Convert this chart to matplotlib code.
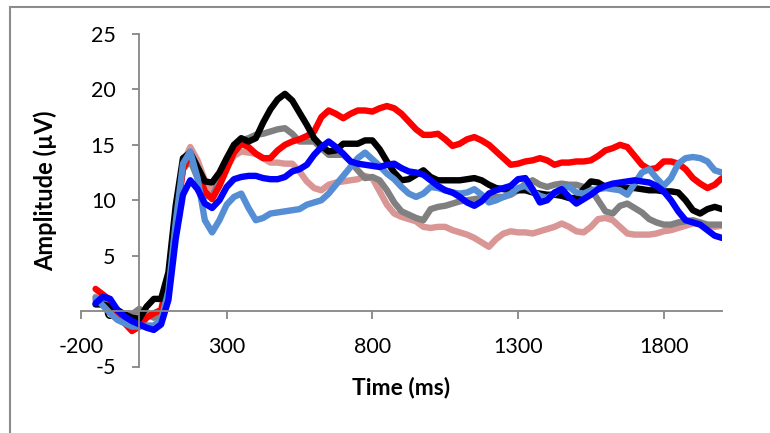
import numpy as np
import matplotlib
matplotlib.use("Agg")
import matplotlib.pyplot as plt
from matplotlib.patches import Rectangle

plt.rcParams['font.family'] = ['Lato', 'DejaVu Sans']
plt.rcParams['axes.unicode_minus'] = False

# time axis of the averaged waveforms (ms), 25 ms steps from -150 to 2000
time_ms = np.arange(-150, 2001, 25)

red = [2.0, 1.5, 1.0, -0.1, -1.1, -1.8, -1.4, -0.6, -0.2, 0.1,
       3.0, 8.0, 12.8, 14.2, 12.6, 10.8, 10.1, 11.3, 12.8, 14.3,
       15.1, 14.8, 14.2, 13.8, 13.8, 14.5, 15.0, 15.3, 15.5, 15.8,
       16.2, 17.5, 18.1, 17.8, 17.4, 17.8, 18.1, 18.1, 18.0, 18.3,
       18.5, 18.3, 17.8, 17.1, 16.4, 15.9, 15.9, 16.0, 15.5, 14.9,
       15.1, 15.5, 15.7, 15.4, 15.0, 14.4, 13.8, 13.2, 13.3, 13.5,
       13.6, 13.8, 13.6, 13.2, 13.4, 13.4, 13.5, 13.5, 13.6, 14.0,
       14.5, 14.7, 15.0, 14.8, 14.0, 13.2, 12.8, 12.9, 13.5, 13.5,
       13.3, 12.8, 12.0, 11.5, 11.1, 11.4, 12.0]

black = [0.6, 0.6, 0.4, 0.1, -0.3, -0.6, -0.7, 0.4, 1.1, 1.1,
         3.5, 9.5, 13.8, 14.3, 13.0, 11.7, 11.6, 12.5, 13.8, 15.0,
         15.6, 15.3, 15.6, 17.0, 18.2, 19.1, 19.6, 19.0, 17.9, 16.8,
         15.6, 14.9, 14.4, 14.5, 15.1, 15.1, 15.1, 15.4, 15.4, 14.6,
         13.5, 12.5, 11.8, 11.9, 12.3, 12.7, 12.1, 11.8, 11.8, 11.8,
         11.8, 11.9, 12.0, 11.8, 11.4, 11.1, 11.0, 10.9, 10.9, 10.9,
         10.7, 10.6, 10.5, 10.5, 10.4, 10.2, 10.2, 11.0, 11.7, 11.6,
         11.2, 11.1, 11.1, 11.1, 11.1, 11.0, 10.9, 10.9, 10.8, 10.8,
         10.7, 10.0, 9.1, 8.8, 9.2, 9.4, 9.2]

gray = [1.0, 0.8, 0.4, 0.1, -0.4, -0.3, 0.2, -0.2, -0.6, -0.3,
        2.5, 8.5, 12.8, 13.6, 12.0, 10.4, 10.3, 11.8, 13.5, 15.0,
        15.4, 15.6, 15.9, 16.0, 16.2, 16.4, 16.5, 16.0, 15.3, 15.3,
        15.3, 14.7, 14.1, 14.1, 14.1, 13.5, 12.7, 12.0, 12.1, 11.8,
        10.9, 9.8, 9.0, 8.7, 8.4, 8.2, 9.2, 9.4, 9.5, 9.7,
        9.9, 10.0, 10.1, 10.2, 10.2, 10.3, 10.3, 10.5, 10.9, 11.5,
        11.8, 11.4, 11.2, 11.4, 11.5, 11.4, 11.4, 11.2, 11.0, 10.0,
        9.0, 8.8, 9.5, 9.7, 9.3, 8.9, 8.3, 8.0, 7.8, 7.8,
        8.0, 8.1, 8.2, 8.0, 7.8, 7.8, 7.8]

pink = [1.3, 0.9, 0.2, -0.4, -0.9, -1.0, -0.4, -0.3, -0.4, -0.2,
        2.5, 8.5, 13.3, 14.8, 13.6, 11.8, 10.8, 11.5, 13.0, 14.0,
        14.4, 14.3, 14.2, 13.8, 13.4, 13.4, 13.3, 13.3, 12.6, 11.7,
        11.1, 10.9, 11.4, 11.6, 11.7, 11.8, 11.9, 12.2, 12.0, 10.8,
        9.6, 8.8, 8.5, 8.3, 8.1, 7.6, 7.5, 7.6, 7.6, 7.3,
        7.1, 6.9, 6.6, 6.2, 5.8, 6.5, 7.0, 7.2, 7.1, 7.1,
        7.0, 7.2, 7.4, 7.6, 7.9, 7.6, 7.2, 7.1, 7.6, 8.3,
        8.4, 8.2, 7.6, 7.0, 6.9, 6.9, 6.9, 7.0, 7.2, 7.3,
        7.5, 7.7, 7.9, 7.9, 7.7, 7.6, 7.7]

light_blue = [1.2, 0.5, -0.2, -0.8, -1.1, -1.4, -1.4, -1.3, -1.3, -0.8,
              1.8, 8.0, 13.3, 14.4, 12.0, 8.2, 7.1, 8.2, 9.6, 10.3,
              10.6, 9.3, 8.2, 8.4, 8.8, 8.9, 9.0, 9.1, 9.2, 9.6,
              9.8, 10.0, 10.6, 11.4, 12.2, 13.0, 13.8, 14.3, 13.7, 13.1,
              12.4, 11.9, 11.2, 10.6, 10.3, 10.6, 11.2, 11.1, 10.9, 10.7,
              10.6, 10.7, 11.0, 10.5, 9.8, 10.0, 10.3, 10.6, 11.1, 11.3,
              10.8, 10.4, 10.2, 10.6, 11.1, 11.2, 10.7, 10.6, 10.9, 11.0,
              11.1, 11.0, 10.9, 10.5, 11.5, 12.5, 12.8, 12.0, 11.3, 12.0,
              13.3, 13.8, 13.9, 13.8, 13.5, 12.7, 12.5]

blue = [0.7, 1.3, 1.1, 0.1, -0.5, -0.9, -1.2, -1.5, -1.7, -1.2,
        1.0, 6.5, 10.5, 11.8, 11.0, 9.7, 9.3, 10.0, 11.2, 11.9,
        12.1, 12.2, 12.2, 12.0, 11.9, 11.9, 12.1, 12.6, 12.8, 13.2,
        14.1, 14.8, 15.3, 14.8, 14.2, 13.5, 13.3, 13.2, 13.1, 13.0,
        13.2, 13.3, 12.9, 12.6, 12.5, 12.3, 11.8, 11.3, 10.9, 10.7,
        10.3, 9.8, 9.5, 9.9, 10.6, 10.9, 11.1, 11.3, 11.9, 12.0,
        11.0, 9.8, 10.0, 10.7, 11.0, 10.3, 9.7, 10.1, 10.5, 11.0,
        11.3, 11.5, 11.6, 11.7, 11.8, 11.7, 11.6, 11.3, 10.8, 10.0,
        9.0, 8.2, 8.0, 7.8, 7.3, 6.8, 6.6]

x_ticks = [-200, 300, 800, 1300, 1800]
y_ticks = [-5, 0, 5, 10, 15, 20, 25]

fig = plt.figure(figsize=(7.7, 4.33), dpi=100)

# grey chart-area border (runs off the right and bottom edges)
fig.patches.append(Rectangle((10 / 770, -0.2), 2.0, 1.2 - 7 / 433,
                             transform=fig.transFigure, fill=False,
                             edgecolor='#8c8c8c', linewidth=1.5))

ax = fig.add_axes([81 / 770, 66.5 / 433, 641 / 770, 332.5 / 433])

series = [(pink, '#D99694'), (gray, '#808080'), (red, '#FF0000'),
          (black, '#000000'), (light_blue, '#558ED5'), (blue, '#0000FF')]
for vals, col in series:
    ax.plot(time_ms, vals, color=col, linewidth=4.6,
            solid_joinstyle='round', solid_capstyle='round')

ax.set_xlim(-200, 2000)
ax.set_ylim(-5, 25)
ax.set_xticks(x_ticks)
ax.set_yticks(y_ticks)

# axes cross at the origin, Excel style
ax.spines['left'].set_position(('data', 0))
ax.spines['bottom'].set_position(('data', 0))
ax.spines['right'].set_visible(False)
ax.spines['top'].set_visible(False)
for s in ('left', 'bottom'):
    ax.spines[s].set_color('#868686')
    ax.spines[s].set_linewidth(1.3)

ax.tick_params(axis='both', colors='#868686', labelcolor='black',
               labelsize=15.5, width=1.3)
ax.tick_params(axis='y', direction='out', length=5, pad=12)
ax.tick_params(axis='x', direction='out', length=6, pad=13)

fig.text(401 / 770, 1 - 388 / 433, 'Time (ms)', ha='center', va='center',
         fontsize=16.5, fontweight='bold')
fig.text(45 / 770, 1 - 191 / 433, 'Amplitude (µV)', ha='center', va='center',
         rotation=90, fontsize=17, fontweight='bold')

fig.savefig('out.png', dpi=100)
